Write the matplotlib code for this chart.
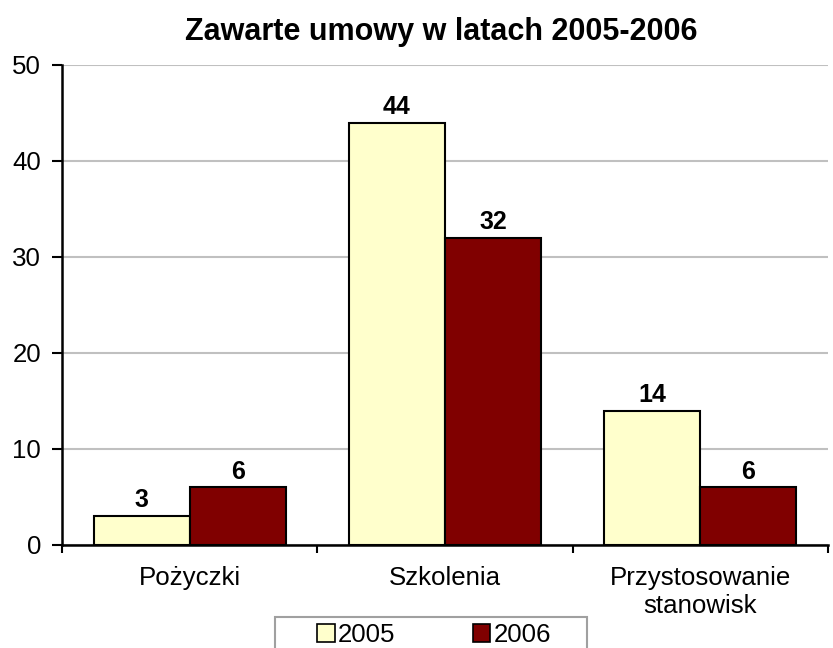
import matplotlib.pyplot as plt
from matplotlib.patches import Rectangle
import numpy as np

plt.rcParams['font.family'] = ['Liberation Sans', 'DejaVu Sans']

categories = ['Pożyczki', 'Szkolenia', 'Przystosowanie\nstanowisk']
series_names = ['2005', '2006']
values_2005 = [3, 44, 14]
values_2006 = [6, 32, 6]
colors = ['#FFFFCC', '#800000']

fig = plt.figure(figsize=(8.33, 6.48), dpi=100)
ax = fig.add_axes([0.0744, 0.159, 0.9196, 0.7407])

x = np.arange(len(categories))
w = 0.376
bars1 = ax.bar(x - w / 2, values_2005, w, color=colors[0], edgecolor='black',
               linewidth=1.5, label=series_names[0], zorder=3)
bars2 = ax.bar(x + w / 2, values_2006, w, color=colors[1], edgecolor='black',
               linewidth=1.5, label=series_names[1], zorder=3)

# etykiety wartosci nad slupkami
for bars in (bars1, bars2):
    for b in bars:
        ax.text(b.get_x() + b.get_width() / 2, b.get_height() + 0.4,
                str(int(b.get_height())), ha='center', va='bottom',
                fontsize=18, fontweight='bold')

ax.set_xlim(-0.5, len(categories) - 0.5)
ax.set_ylim(0, 50)
ax.set_yticks(range(0, 51, 10))
ax.yaxis.grid(True, color='#C0C0C0', linewidth=1.5, zorder=0)
ax.set_axisbelow(True)

ax.set_xticks(np.arange(-0.5, len(categories), 1.0))
ax.set_xticklabels([])
ax.set_xticks(x, minor=True)
ax.set_xticklabels(categories, minor=True, fontsize=18.6)
ax.tick_params(axis='x', which='minor', length=0, pad=15)
ax.tick_params(axis='x', which='major', length=6, width=1.5, direction='out')
ax.tick_params(axis='y', length=7, width=1.5, direction='out', labelsize=18.6, pad=8)

for s in ('top', 'right'):
    ax.spines[s].set_visible(False)
for s in ('left', 'bottom'):
    ax.spines[s].set_linewidth(1.8)

fig.text(0.53, 0.951, 'Zawarte umowy w latach 2005-2006', ha='center', va='center',
         fontsize=22, fontweight='bold')

# ramka legendy (ucieta u dolu jak w oryginale)
fig.patches.append(Rectangle((275 / 833, -0.05), 312 / 833, 0.0978,
                             transform=fig.transFigure, facecolor='white',
                             edgecolor='#A0A0A0', linewidth=1.5, zorder=1))
leg = fig.legend(loc='upper center', bbox_to_anchor=(434 / 833, 38 / 648), ncol=2,
                 frameon=False, fontsize=18.6, borderpad=0,
                 handlelength=0.68, handleheight=0.68, handletextpad=0.12,
                 columnspacing=3.0)
leg.set_zorder(2)
for h in leg.legend_handles:
    h.set_linewidth(1.2)

fig.savefig('out.png', dpi=100)
